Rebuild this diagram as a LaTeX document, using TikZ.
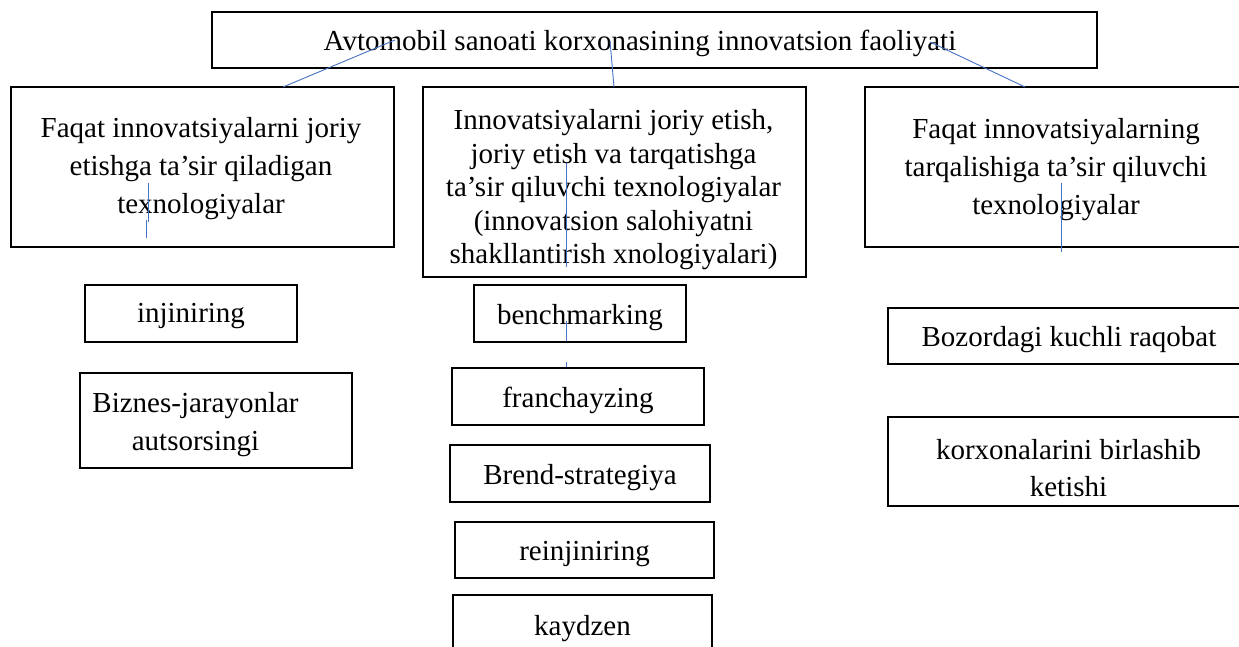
\documentclass[tikz,border=0pt]{standalone}
\usepackage{fontspec}
\setmainfont{Liberation Serif}
\definecolor{linkblue}{RGB}{68,114,196}
\begin{document}
\begin{tikzpicture}[x=1pt,y=-1pt,
  box/.style={draw, line width=1.8pt, inner sep=0pt, align=center, font=\fontsize{29}{38.5}\selectfont},
  onebox/.style={box, text height=24pt, text depth=3pt},
  txt/.style={inner sep=0pt, align=center, font=\fontsize{29}{38}\selectfont},
  onetxt/.style={txt, text height=24pt, text depth=3pt},
  conn/.style={draw=linkblue, line width=0.9pt}]
\useasboundingbox (0,0) rectangle (1239,647);
\clip (0,0) rectangle (1239,647);

% top
\node[box, minimum width=885pt, minimum height=56pt] (top) at (654.5,40) {};
\node[onetxt] (toptext) at (640,40) {Avtomobil sanoati korxonasining innovatsion faoliyati};

% second row
\node[box, minimum width=383pt, minimum height=160pt] (left) at (202.5,167) {};
\node[txt] (lefttext) at (201,169)
  {Faqat innovatsiyalarni joriy\\ etishga ta’sir qiladigan\\ texnologiyalar};
\node[box, minimum width=383pt, minimum height=190pt] (mid) at (614.5,182) {};
\node[txt, font=\fontsize{29}{33.5}\selectfont] (midtext) at (613.5,190)
  {Innovatsiyalarni joriy etish,\\ joriy etish va tarqatishga\\ ta’sir qiluvchi texnologiyalar\\ (innovatsion salohiyatni\\ shakllantirish xnologiyalari)};
\node[box, minimum width=382pt, minimum height=160pt] (right) at (1056,167) {};
\node[txt] (righttext) at (1056,169.5)
  {Faqat innovatsiyalarning\\ tarqalishiga ta’sir qiluvchi\\ texnologiyalar};

% left column
\node[box, minimum width=212pt, minimum height=57pt] (inj) at (191,313.5) {};
\node[onetxt] (injtext) at (191,312) {injiniring};
\node[box, minimum width=272pt, minimum height=95pt] (biz) at (216,420.5) {};
\node[txt] (biztext) at (195.5,425) {Biznes-jarayonlar\\ autsorsingi};

% middle column
\node[onebox, minimum width=212pt, minimum height=57pt] (bench) at (580,313.5) {benchmarking};
\node[onebox, minimum width=252pt, minimum height=57pt] (fran) at (578,396.5) {franchayzing};
\node[onebox, minimum width=260pt, minimum height=57pt] (brend) at (580,473.5) {Brend-strategiya};
\node[onebox, minimum width=259pt, minimum height=56pt] (rein) at (584.5,550) {reinjiniring};
\node[onebox, minimum width=259pt, minimum height=60pt] (kay) at (582.5,625) {kaydzen};

% right column
\node[onebox, minimum width=362pt, minimum height=56pt] (boz) at (1069,336) {Bozordagi kuchli raqobat};
\node[box, minimum width=362pt, minimum height=89pt] (kor) at (1069,461.5) {};
\node[txt, font=\fontsize{29}{37}\selectfont] (kortext) at (1068.5,468) {korxonalarini birlashib\\ ketishi};

% connector coordinates
\coordinate (a1) at (395,40);   \coordinate (b1) at (283,87);
\coordinate (a2) at (610,41);   \coordinate (b2) at (614,87);
\coordinate (a3) at (930,42);   \coordinate (b3) at (1025,87);
\coordinate (l1) at (148,183);  \coordinate (l2) at (148,222);
\coordinate (l3) at (146,220);  \coordinate (l4) at (146,238);
\coordinate (m1) at (566,163);  \coordinate (m2) at (566,267);
\coordinate (r1) at (1061,183); \coordinate (r2) at (1061,252);
\coordinate (k1) at (566,321);  \coordinate (k2) at (566,341);
\coordinate (k3) at (566,362);  \coordinate (k4) at (566,367);

\draw[conn] (a1) -- (b1);
\draw[conn] (a2) -- (b2);
\draw[conn] (a3) -- (b3);
\draw[conn] (l1) -- (l2);
\draw[conn] (l3) -- (l4);
\draw[conn] (m1) -- (m2);
\draw[conn] (r1) -- (r2);
\draw[conn] (k1) -- (k2);
\draw[conn] (k3) -- (k4);
\end{tikzpicture}
\end{document}
